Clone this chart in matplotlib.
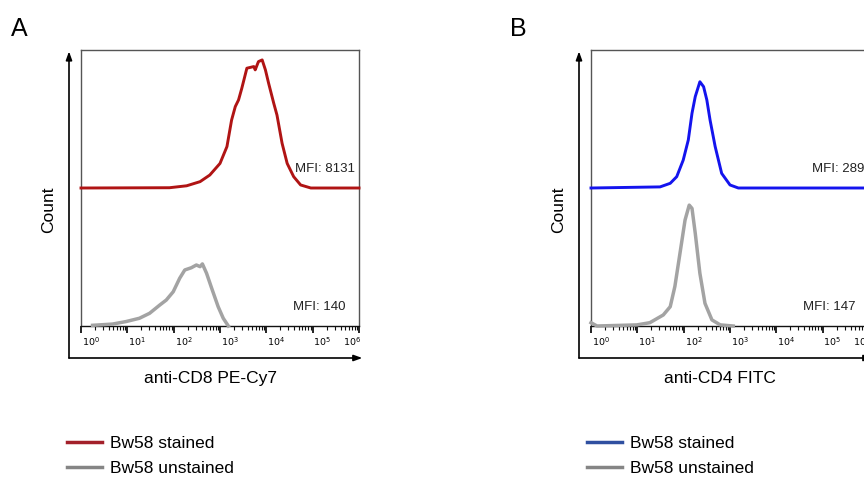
import numpy as np
import matplotlib.pyplot as plt
from matplotlib.lines import Line2D
from matplotlib.transforms import ScaledTranslation

plt.rcParams['font.family'] = ['Liberation Sans', 'DejaVu Sans']

# Histogram traces, x in log10(intensity), y in count (arbitrary units)
a_stained_logx = [0.0, 1.91, 2.28, 2.57, 2.78, 3.0, 3.15, 3.25, 3.33, 3.4, 3.47, 3.58,
                  3.73, 3.76, 3.83, 3.91, 3.98, 4.05, 4.16, 4.23, 4.34, 4.45, 4.59,
                  4.74, 4.96, 6.0]
a_stained_cnt = [0, 0.1, 0.8, 2.3, 4.7, 8.9, 15.0, 24.6, 29.5, 31.9, 36.1, 43.4,
                 44.0, 42.8, 45.8, 46.4, 42.8, 37.9, 30.7, 26.4, 16.2, 8.9, 4.1,
                 1.1, 0, 0]
a_unstained_logx = [0.25, 0.68, 0.97, 1.26, 1.48, 1.7, 1.84, 1.99, 2.13, 2.24, 2.38,
                    2.49, 2.57, 2.62, 2.71, 2.82, 2.96, 3.07, 3.18]
a_unstained_cnt = [0.25, 0.7, 1.6, 2.8, 4.6, 7.6, 9.4, 12.4, 17.3, 20.3, 21.1,
                   22.1, 21.5, 22.5, 19.1, 13.7, 7.0, 2.8, 0]

b_stained_logx = [0.0, 1.49, 1.71, 1.85, 1.99, 2.1, 2.18, 2.25, 2.35, 2.43, 2.5,
                  2.57, 2.68, 2.82, 3.0, 3.18, 6.0]
b_stained_cnt = [0, 0.4, 1.7, 4.1, 10.1, 17.4, 27.1, 33.1, 38.5, 36.7, 31.9,
                 24.6, 15.0, 5.3, 1.1, 0, 0]
b_unstained_logx = [0.0, 0.13, 0.99, 1.27, 1.56, 1.71, 1.81, 1.92, 2.03, 2.12,
                    2.18, 2.25, 2.35, 2.46, 2.61, 2.79, 3.07]
b_unstained_cnt = [1.2, 0, 0.4, 1.2, 4.0, 7.0, 14.3, 26.3, 38.4, 43.8, 42.6,
                   33.6, 19.1, 8.2, 2.2, 0.4, 0]

stained_offset = 50
mfi_a = ['MFI: 8131', 'MFI: 140']
mfi_b = ['MFI: 289', 'MFI: 147']
xlabels = ['anti-CD8 PE-Cy7', 'anti-CD4 FITC']
legend_labels = ['Bw58 stained', 'Bw58 unstained']
decades = [0, 1, 2, 3, 4, 5, 6]

fig = plt.figure(figsize=(8.64, 4.82), dpi=100)
W, H = 864, 482


def panel(left, letter, sx, sy, ux, uy, col, leg_col, mfi, xlab, leg_x):
    ax = fig.add_axes([left / W, (H - 326) / H, 278 / W, 276 / H])
    ax.plot(10 ** np.array(sx), np.array(sy) + stained_offset, color=col, lw=2.1,
            solid_joinstyle='round', clip_on=False, zorder=3)
    ax.plot(10 ** np.array(ux), uy, color='#a3a3a3', lw=2.5,
            solid_joinstyle='round', clip_on=False, zorder=3)
    ax.set_xscale('log')
    ax.set_xlim(1, 1e6)
    ax.set_ylim(0, 100)
    ax.set_yticks([])
    for s in ax.spines.values():
        s.set_color('#555555')
        s.set_linewidth(1.0)
    ax.spines['bottom'].set_color('#111111')
    ax.set_xticks([10.0 ** d for d in decades])
    ax.set_xticklabels(['$10^{%d}$' % d for d in decades])
    ax.tick_params(axis='x', which='major', length=5, width=1.3, labelsize=6.8,
                   pad=2, color='#111111')
    ax.tick_params(axis='x', which='minor', length=3, width=0.8, color='#111111')
    labs = ax.get_xticklabels()
    for i, lab in enumerate(labs):
        dx = 7 / 72 if i < len(labs) - 1 else -5 / 72
        lab.set_transform(lab.get_transform() + ScaledTranslation(dx, 0, fig.dpi_scale_trans))

    ax.text(0.985, (stained_offset + 7) / 100, mfi[0], transform=ax.transAxes,
            ha='right', va='center', fontsize=9.5, color='#222222')
    ax.text(0.95, 0.07, mfi[1], transform=ax.transAxes,
            ha='right', va='center', fontsize=9.5, color='#222222')

    # outer arrow axes
    x0 = -12 / 278
    y0 = -32 / 276
    ax.annotate('', xy=(x0, 0.995), xytext=(x0, y0), xycoords='axes fraction',
                arrowprops=dict(arrowstyle='-|>,head_length=0.5,head_width=0.18',
                                color='black', lw=1.2, shrinkA=0, shrinkB=0))
    ax.annotate('', xy=(1.012, y0), xytext=(x0, y0), xycoords='axes fraction',
                arrowprops=dict(arrowstyle='-|>,head_length=0.5,head_width=0.18',
                                color='black', lw=1.2, shrinkA=0, shrinkB=0))

    ax.text(-0.118, 0.42, 'Count', transform=ax.transAxes, rotation=90,
            ha='center', va='center', fontsize=12.5)
    ax.text(0.465, -0.19, xlab, transform=ax.transAxes, ha='center', va='center',
            fontsize=12.5)
    fig.text(letter[1] / W, 1 - 29 / H, letter[0], ha='left', va='center', fontsize=18)

    handles = [Line2D([], [], color=leg_col, lw=2.5),
               Line2D([], [], color='#858585', lw=2.5)]
    fig.legend(handles, legend_labels, loc='upper left',
               bbox_to_anchor=(leg_x / W, 1 - 436 / H), frameon=False,
               fontsize=12.5, handlelength=2.0, handletextpad=0.45,
               labelspacing=0.58, borderaxespad=0, borderpad=0)
    return ax


panel(81, ('A', 11), a_stained_logx, a_stained_cnt, a_unstained_logx, a_unstained_cnt,
      '#b01414', '#a3202a', mfi_a, xlabels[0], 67)
panel(591, ('B', 510), b_stained_logx, b_stained_cnt, b_unstained_logx, b_unstained_cnt,
      '#1414ee', '#2f4fa0', mfi_b, xlabels[1], 587)

fig.savefig('out.png', dpi=100)
